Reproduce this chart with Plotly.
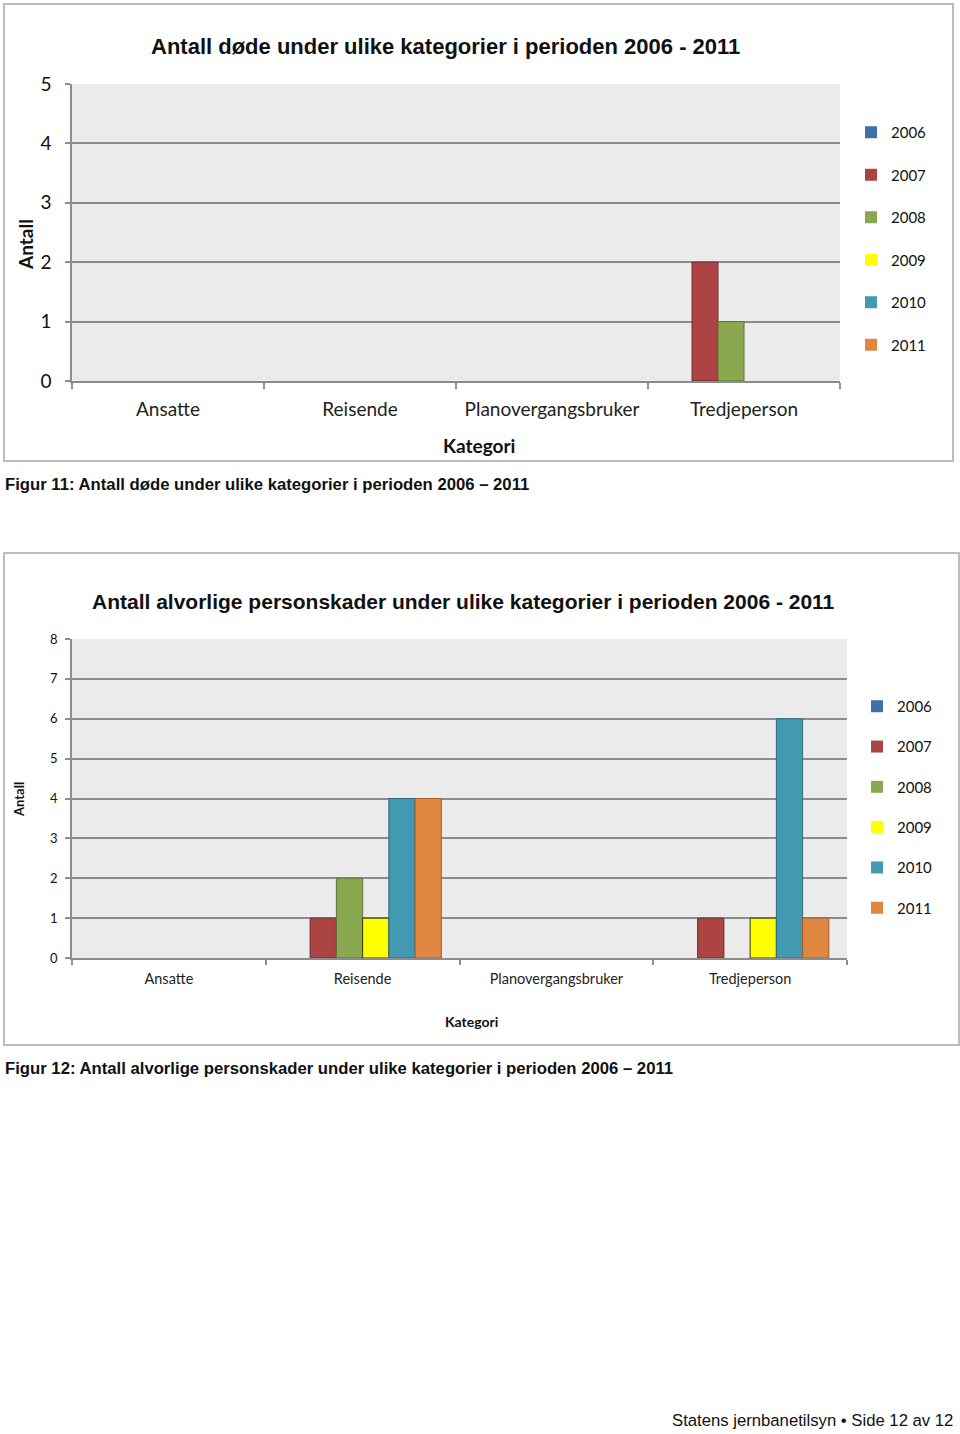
import plotly.graph_objects as go

W, H = 960, 1434

categories = ["Ansatte", "Reisende", "Planovergangsbruker", "Tredjeperson"]
years = ["2006", "2007", "2008", "2009", "2010", "2011"]

# Figur 11: deaths per category, one list per year
dead_2006 = [0, 0, 0, 0]
dead_2007 = [0, 0, 0, 2]
dead_2008 = [0, 0, 0, 1]
dead_2009 = [0, 0, 0, 0]
dead_2010 = [0, 0, 0, 0]
dead_2011 = [0, 0, 0, 0]

# Figur 12: serious injuries per category, one list per year
inj_2006 = [0, 0, 0, 0]
inj_2007 = [0, 1, 0, 1]
inj_2008 = [0, 2, 0, 0]
inj_2009 = [0, 1, 0, 1]
inj_2010 = [0, 4, 0, 6]
inj_2011 = [0, 4, 0, 1]

y1_ticks = [0, 1, 2, 3, 4, 5]
y2_ticks = [0, 1, 2, 3, 4, 5, 6, 7, 8]

title1 = "Antall døde under ulike kategorier i perioden 2006 - 2011"
title2 = "Antall alvorlige personskader under ulike kategorier i perioden 2006 - 2011"
caption1 = "Figur 11: Antall døde under ulike kategorier i perioden 2006 – 2011"
caption2 = "Figur 12: Antall alvorlige personskader under ulike kategorier i perioden 2006 – 2011"
footer = "Statens jernbanetilsyn • Side 12 av 12"
x_title = "Kategori"
y_title = "Antall"

fill_colors = ["#3f70aa", "#ac4443", "#8aa84f", "#ffff00", "#4399b2", "#df8640"]
line_colors = ["#2c5282", "#6e2a2a", "#5d7534", "#3a3a00", "#2d6b7d", "#a55d2a"]

dead = [dead_2006, dead_2007, dead_2008, dead_2009, dead_2010, dead_2011]
inj = [inj_2006, inj_2007, inj_2008, inj_2009, inj_2010, inj_2011]


def px(x):
    return x / W


def py(y):
    return 1 - y / H


CAL = "Lato, Carlito, 'Open Sans', sans-serif"
ARIAL = "'Liberation Sans', Arial, sans-serif"

fig = go.Figure()

for i, yr in enumerate(years):
    fig.add_trace(go.Bar(
        x=categories, y=dead[i], name=yr,
        marker=dict(color=fill_colors[i],
                    line=dict(color=line_colors[i], width=[1 if v else 0 for v in dead[i]])),
        xaxis="x", yaxis="y", legend="legend", legendgroup="a" + yr,
    ))
for i, yr in enumerate(years):
    fig.add_trace(go.Bar(
        x=categories, y=inj[i], name=yr,
        marker=dict(color=fill_colors[i],
                    line=dict(color=line_colors[i], width=[1 if v else 0 for v in inj[i]])),
        xaxis="x2", yaxis="y2", legend="legend2", legendgroup="b" + yr,
    ))

grid = "#8c8c8c"
axis_common = dict(showline=True, linecolor=grid, linewidth=1.5, ticks="outside",
                   tickcolor=grid, tickwidth=1.5, automargin=False)


def ann(text, x, y, size, family=CAL, anchor="center", angle=0):
    return dict(text=text, xref="paper", yref="paper", x=px(x), y=py(y),
                xanchor=anchor, yanchor="middle", showarrow=False, textangle=angle,
                font=dict(family=family, size=size, color="#111"))


fig.update_layout(
    width=W, height=H,
    margin=dict(l=0, r=0, t=0, b=0, pad=0, autoexpand=False),
    paper_bgcolor="white",
    plot_bgcolor="#ebebeb",
    barmode="group",
    bargap=0.1875,
    bargroupgap=0,
    showlegend=True,
    xaxis=dict(domain=[px(72), px(840)], anchor="y", type="category",
               tickson="boundaries", ticklen=6, showgrid=False,
               tickfont=dict(family=CAL, size=19, color="#222"),
               ticklabelstandoff=10,
               **axis_common),
    yaxis=dict(domain=[py(381), py(84)], anchor="x", range=[0, 5], tickvals=y1_ticks,
               ticklen=5, showgrid=True, gridcolor=grid, gridwidth=1.5, zeroline=False,
               tickfont=dict(family=CAL, size=19, color="#111"),
               ticklabelstandoff=10,
               **axis_common),
    xaxis2=dict(domain=[px(72), px(847)], anchor="y2", type="category",
                tickson="boundaries", ticklen=5, showgrid=False,
                tickfont=dict(family=CAL, size=14.5, color="#222"),
                ticklabelstandoff=7,
                **axis_common),
    yaxis2=dict(domain=[py(958), py(639)], anchor="x2", range=[0, 8], tickvals=y2_ticks,
                ticklen=5, showgrid=True, gridcolor=grid, gridwidth=1.5, zeroline=False,
                tickfont=dict(family=CAL, size=13, color="#111"),
                ticklabelstandoff=5,
                **axis_common),
    legend=dict(x=px(851), y=py(116), xanchor="left", yanchor="top",
                font=dict(family=CAL, size=15, color="#111"), tracegroupgap=20,
                bgcolor="rgba(0,0,0,0)"),
    legend2=dict(x=px(857), y=py(690), xanchor="left", yanchor="top",
                 font=dict(family=CAL, size=15, color="#111"), tracegroupgap=17.8,
                 bgcolor="rgba(0,0,0,0)"),
    shapes=[
        dict(type="rect", xref="paper", yref="paper", x0=px(4), x1=px(953), y0=py(461), y1=py(4),
             line=dict(color="#bdbdbd", width=2)),
        dict(type="rect", xref="paper", yref="paper", x0=px(4), x1=px(959), y0=py(1045), y1=py(553),
             line=dict(color="#bdbdbd", width=2)),
    ],
    annotations=[
        ann("<b>" + title1 + "</b>", 445, 47, 22, ARIAL),
        ann("<b>" + title2 + "</b>", 463, 601, 21, ARIAL),
        ann("<b>" + y_title + "</b>", 25, 245, 19, angle=-90),
        ann("<b>" + x_title + "</b>", 479, 446, 19),
        ann("<b>" + y_title + "</b>", 19, 800, 13, angle=-90),
        ann("<b>" + x_title + "</b>", 471, 1021, 14),
        ann("<b>" + caption1 + "</b>", 3, 484, 16.7, ARIAL, anchor="left"),
        ann("<b>" + caption2 + "</b>", 3, 1068, 16.7, ARIAL, anchor="left"),
        ann(footer, 955, 1420, 16.7, ARIAL, anchor="right"),
    ],
)

fig.write_html("out.html", config={"displayModeBar": False},
               post_script="document.body.style.margin='0';document.body.style.overflow='hidden';")
